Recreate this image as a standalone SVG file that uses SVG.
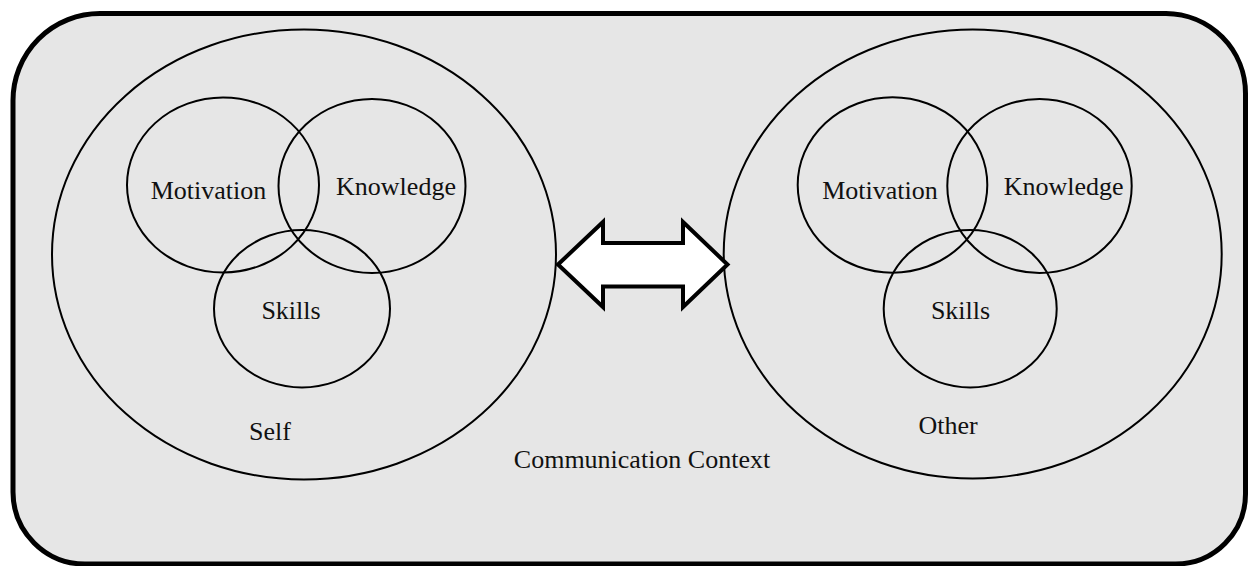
<svg xmlns="http://www.w3.org/2000/svg" width="1248" height="566" viewBox="0 0 1248 566">
<style>
.ring{fill:none;stroke:#000;stroke-width:2}
.lbl{font-family:"Liberation Serif","Times New Roman",serif;font-size:26px;fill:#111;text-anchor:middle}
</style>
<rect x="0" y="0" width="1248" height="566" fill="#fff"/>
<g id="context">
<path d="M100,13.5 H1166 A80,80 0 0 1 1245.5,93.5 V494 A70,70 0 0 1 1175.5,564 H85 A72,72 0 0 1 13,492 V100.5 A87,87 0 0 1 100,13.5 Z" fill="#e6e6e6" stroke="#000" stroke-width="5"/>
<text class="lbl" x="642" y="468">Communication Context</text>
</g>
<g id="self">
<ellipse class="ring" cx="304" cy="254.5" rx="252" ry="225"/>
<text class="lbl" x="270" y="440">Self</text>
</g>
<g id="self-motivation">
<ellipse class="ring" cx="223" cy="185" rx="96" ry="87.5"/>
<text class="lbl" x="208.5" y="199">Motivation</text>
</g>
<g id="self-knowledge">
<ellipse class="ring" cx="372" cy="186" rx="93.5" ry="87"/>
<text class="lbl" x="396" y="195">Knowledge</text>
</g>
<g id="self-skills">
<ellipse class="ring" cx="302" cy="308.7" rx="88" ry="78.7"/>
<text class="lbl" x="291" y="318.7">Skills</text>
</g>
<g id="other">
<ellipse class="ring" cx="972.7" cy="254" rx="249" ry="224.5"/>
<text class="lbl" x="948" y="434">Other</text>
</g>
<g id="other-motivation">
<ellipse class="ring" cx="892.5" cy="185" rx="94.8" ry="87.7"/>
<text class="lbl" x="880" y="199.3">Motivation</text>
</g>
<g id="other-knowledge">
<ellipse class="ring" cx="1039.5" cy="186" rx="92.2" ry="87"/>
<text class="lbl" x="1063.7" y="195">Knowledge</text>
</g>
<g id="other-skills">
<ellipse class="ring" cx="970.2" cy="308.7" rx="86.5" ry="78.7"/>
<text class="lbl" x="960.5" y="318.7">Skills</text>
</g>
<g id="connectors">
<polygon points="558,264.5 603,222 603,243 683,243 683,222 727.5,264.5 683,307 683,286.5 603,286.5 603,307" fill="#fff" stroke="#000" stroke-width="4" stroke-linejoin="miter"/>
</g>
</svg>
